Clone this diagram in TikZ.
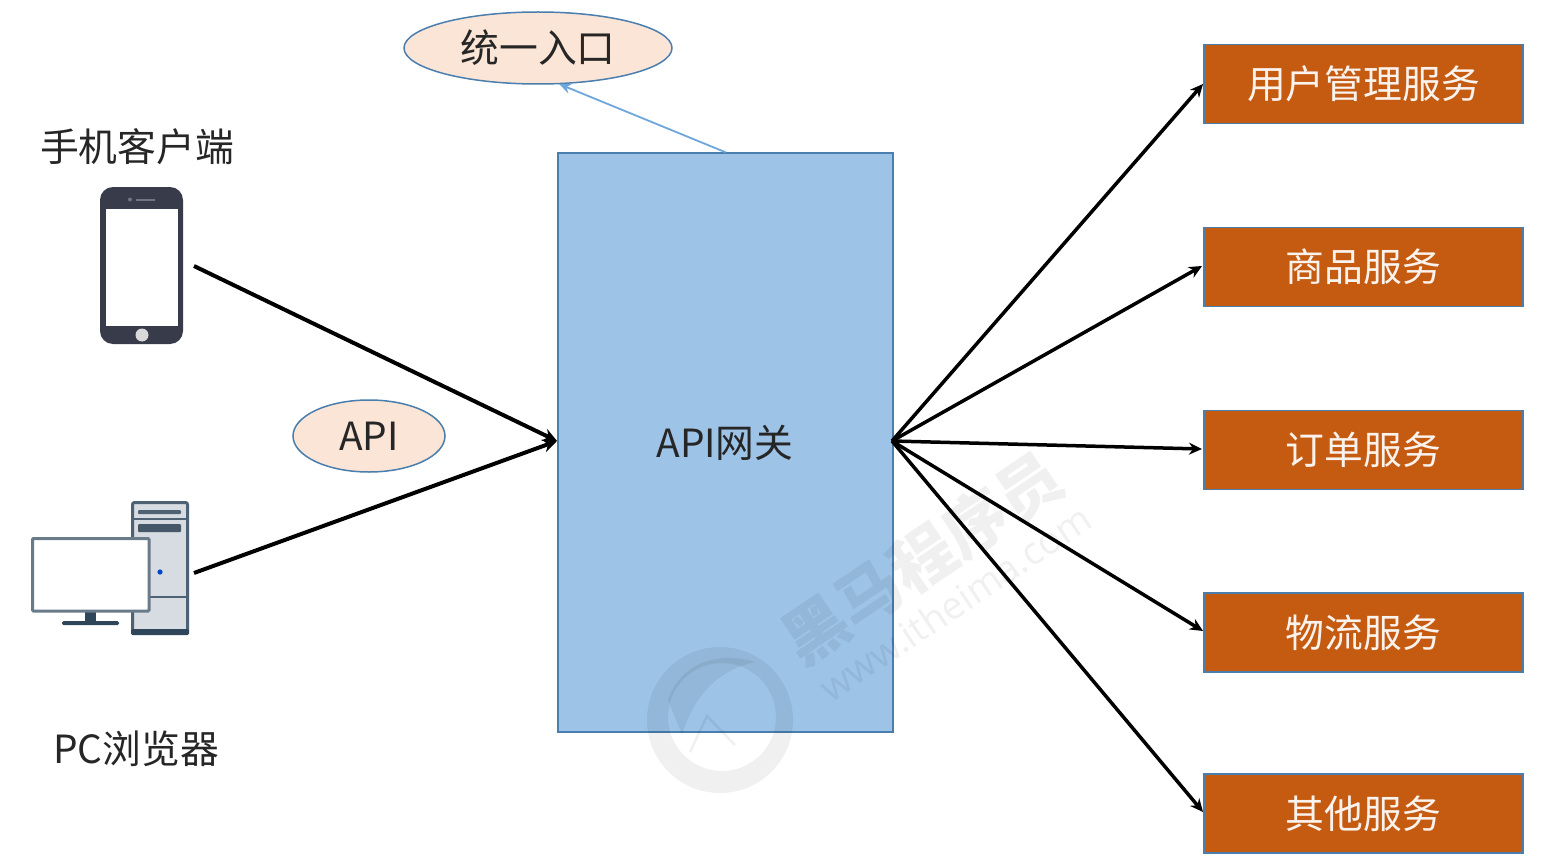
\documentclass[tikz,border=0pt]{standalone}
\usepackage{fontspec}
\setmainfont{Noto Sans CJK SC}
\newfontfamily\markfont{Open Sans}
\usetikzlibrary{arrows.meta,shapes.geometric}
\definecolor{gwblue}{HTML}{9DC3E6}
\definecolor{edgeblue}{HTML}{4A7EAE}
\definecolor{noteblue}{HTML}{6FA6DC}
\definecolor{svcorange}{HTML}{C55A11}
\definecolor{bubble}{HTML}{FBE5D6}
\definecolor{inkdark}{HTML}{262626}
\definecolor{phonedark}{HTML}{373B4A}
\definecolor{pcslate}{HTML}{4F6273}
\definecolor{pcnavy}{HTML}{2F4559}
\definecolor{towergrey}{HTML}{D6DCE1}
\tikzset{
  x=1pt, y=-1pt,
  label text/.style={font=\fontsize{38.8}{44}\selectfont, text=inkdark, inner sep=0pt},
  gateway/.style={draw=edgeblue, line width=1.5pt, fill=gwblue, minimum width=335pt, minimum height=579pt, inner sep=0pt},
  service/.style={draw=edgeblue, line width=1.5pt, fill=svcorange, minimum width=319pt, minimum height=79pt, inner sep=0pt,
    text=white!92!svcorange, font=\fontsize{38.8}{44}\selectfont},
  bubble node/.style={ellipse, draw=edgeblue, line width=1.5pt, fill=bubble, inner sep=0pt, text=inkdark, font=\fontsize{38.8}{44}\selectfont},
  flow/.style={draw=black, line width=4pt, -{Stealth[length=14pt,width=13pt]}},
  thin flow/.style={draw=black, line width=3.5pt, -{Stealth[length=13pt,width=12pt]}},
  note flow/.style={draw=noteblue, line width=1.8pt, -{Stealth[length=12pt,width=10pt]}},
  brand/.style={black, opacity=.06, text opacity=.06},
}
\begin{document}
\begin{tikzpicture}
\useasboundingbox (0,0) rectangle (1566,864);
\fill[white] (0,0) rectangle (1566,864);

% gateway and services
\node[gateway] (gw) at (725.5,442.5) {};
\node[service] (s1) at (1363.5,84) {用户管理服务};
\node[service] (s2) at (1363.5,267) {商品服务};
\node[service] (s3) at (1363.5,450) {\raisebox{1pt}{订单服务}};
\node[service] (s4) at (1363.5,632.5) {物流服务};
\node[service] (s5) at (1363.5,813.5) {\raisebox{-2pt}{其他服务}};
\node[label text] (gwtext) at (725,443) {API网关};

% callouts
\node[bubble node, minimum width=268pt, minimum height=72pt] (entry) at (538,48) {统一入口};
\node[bubble node, minimum width=152pt, minimum height=72pt] (api) at (369,436) {API};

% client captions
\node[label text] (mobile) at (137,147) {手机客户端};
\node[label text] (pc) at (136,749) {PC浏览器};

% phone icon
\fill[phonedark, rounded corners=13pt] (100,187) rectangle (183,344);
\fill[white] (106,209) rectangle (178,326);
\fill[phonedark!70!white] (130,199.5) circle (2pt);
\fill[phonedark!70!white] (136,198.5) rectangle (155,201);
\fill[white!85!black] (142,335) circle (6.5pt);

% desktop icon
\draw[pcslate, line width=3pt, fill=towergrey, rounded corners=2pt] (132.5,502.5) rectangle (187.5,633);
\fill[pcnavy, rounded corners=1.5pt] (131,629) rectangle (189,635);
\draw[pcslate, line width=1.2pt] (132,519) -- (188,519);
\draw[pcslate, line width=1.2pt] (150,597) -- (188,597);
\fill[pcslate, rounded corners=1pt] (138,510) rectangle (181,514);
\fill[pcnavy!90!white, rounded corners=1pt] (138,524) rectangle (181,532);
\fill[blue!65!cyan!80!black] (160,572) circle (2.6pt);
\fill[pcnavy] (85,612) rectangle (96,622);
\fill[pcnavy, rounded corners=1.5pt] (62,621) rectangle (119,625);
\draw[pcslate!85!white, line width=3pt, fill=white, rounded corners=1pt] (32.5,538.5) rectangle (149,611);

% connector ends
\coordinate (phoneout) at (194,266);
\coordinate (pcout) at (194,573);
\coordinate (gwin) at (557,441);
\coordinate (gwout) at (892,441);
\coordinate (entrytip) at (559,84);
\coordinate (s1in) at (1203,84);
\coordinate (s2in) at (1202,266);
\coordinate (s3in) at (1202,449);
\coordinate (s4in) at (1203,631);
\coordinate (s5in) at (1203,812);

% connectors
\draw[flow] (phoneout) -- (gwin);
\draw[flow] (pcout) -- (gwin);
\draw[note flow] (gw.north) -- (entrytip);
\foreach \target in {s1in,s2in,s3in,s4in,s5in}
  \draw[thin flow] (gwout) -- (\target);

% faint brand mark across the lower middle
\fill[brand, even odd rule] (720,720) circle (73pt) (722,717) circle (54pt);
\fill[brand] (668,700) .. controls (680,665) and (715,650) .. (755,662)
  .. controls (725,668) and (695,690) .. (682,735) -- cycle;
\draw[brand, line width=2.5pt] (690,752) -- (707,716) -- (735,745);
\node[brand, rotate=34, font=\fontsize{64}{70}\selectfont\bfseries, inner sep=0pt] (brandname) at (922,558) {黑马程序员};
\node[brand, rotate=34, font=\markfont\fontsize{38}{40}\selectfont, inner sep=0pt] (brandurl) at (955,603) {www.itheima.com};
\end{tikzpicture}
\end{document}
